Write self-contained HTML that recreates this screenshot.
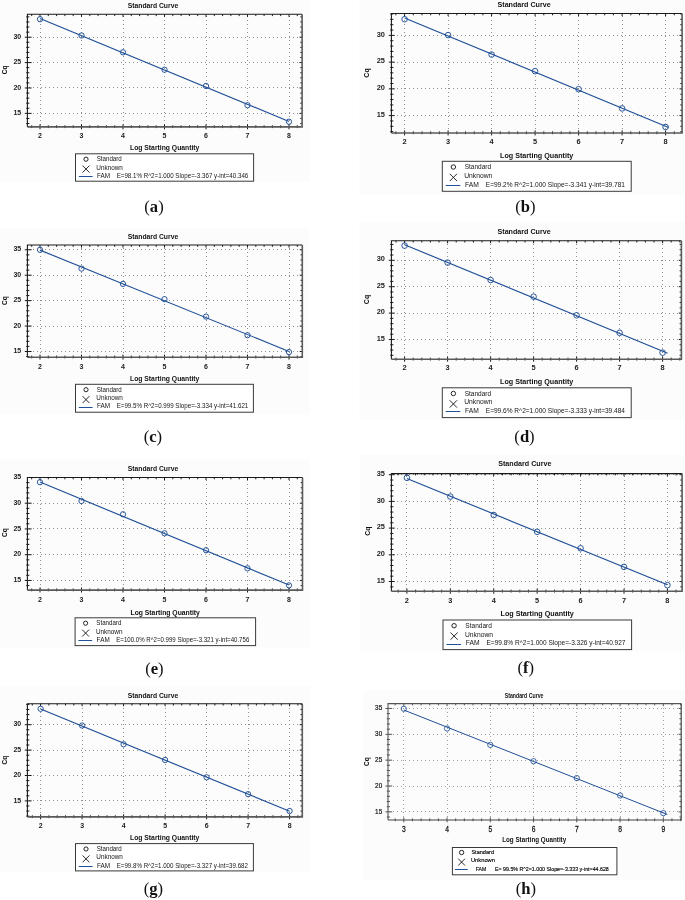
<!DOCTYPE html>
<html><head><meta charset="utf-8"><title>Standard Curves</title>
<style>
html,body{margin:0;padding:0;background:#fff;width:685px;height:900px;overflow:hidden}
svg{display:block}
text{font-family:'Liberation Sans',Arial,sans-serif}
text.cap{font-family:'Liberation Serif','Times New Roman',serif}
</style></head><body>
<svg width="685" height="900" viewBox="0 0 685 900">
<rect width="685" height="900" fill="#fff"/>
<rect x="0" y="0" width="309.6" height="181.5" fill="#fcfcfc"/>
<rect x="359.3" y="0" width="325.7" height="194.5" fill="#fcfcfc"/>
<rect x="0" y="227.8" width="309" height="186.8" fill="#fcfcfc"/>
<rect x="359.3" y="222" width="325.7" height="197.9" fill="#fcfcfc"/>
<rect x="0" y="459.6" width="309.6" height="187.9" fill="#fcfcfc"/>
<rect x="359.9" y="454.9" width="325.1" height="196.7" fill="#fcfcfc"/>
<rect x="0" y="686.2" width="309.5" height="186.5" fill="#fcfcfc"/>
<rect x="363.4" y="690.1" width="321.6" height="189.9" fill="#fcfcfc"/>
<path d="M40.5 16V126.4M81.5 16V126.4M123.5 16V126.4M164.5 16V126.4M206.5 16V126.4M247.5 16V126.4M289.5 16V126.4M29 113.5H301.6M29 87.5H301.6M29 62.5H301.6M29 37.5H301.6" stroke="#909090" stroke-width="1" stroke-dasharray="1 3" fill="none"/>
<path d="M31.7 128.1V125.3M31.7 14.3V16.1M40 129.3V124.3M40 14.3V16.9M48.3 128.1V125.3M48.3 14.3V16.1M56.6 128.1V125.3M56.6 14.3V16.1M64.9 128.1V125.3M64.9 14.3V16.1M73.2 128.1V125.3M73.2 14.3V16.1M81.5 129.3V124.3M81.5 14.3V16.9M89.8 128.1V125.3M89.8 14.3V16.1M98.1 128.1V125.3M98.1 14.3V16.1M106.4 128.1V125.3M106.4 14.3V16.1M114.7 128.1V125.3M114.7 14.3V16.1M123 129.3V124.3M123 14.3V16.9M131.3 128.1V125.3M131.3 14.3V16.1M139.6 128.1V125.3M139.6 14.3V16.1M147.9 128.1V125.3M147.9 14.3V16.1M156.2 128.1V125.3M156.2 14.3V16.1M164.5 129.3V124.3M164.5 14.3V16.9M172.8 128.1V125.3M172.8 14.3V16.1M181.1 128.1V125.3M181.1 14.3V16.1M189.4 128.1V125.3M189.4 14.3V16.1M197.7 128.1V125.3M197.7 14.3V16.1M206 129.3V124.3M206 14.3V16.9M214.3 128.1V125.3M214.3 14.3V16.1M222.6 128.1V125.3M222.6 14.3V16.1M230.9 128.1V125.3M230.9 14.3V16.1M239.2 128.1V125.3M239.2 14.3V16.1M247.5 129.3V124.3M247.5 14.3V16.9M255.8 128.1V125.3M255.8 14.3V16.1M264.1 128.1V125.3M264.1 14.3V16.1M272.4 128.1V125.3M272.4 14.3V16.1M280.7 128.1V125.3M280.7 14.3V16.1M289 129.3V124.3M289 14.3V16.9M297.3 128.1V125.3M297.3 14.3V16.1M26.2 123.51H29.4M302.1 123.51H300.3M26.2 118.43H29.4M302.1 118.43H300.3M24.8 113.36H31.6M302.1 113.36H299.5M26.2 108.28H29.4M302.1 108.28H300.3M26.2 103.2H29.4M302.1 103.2H300.3M26.2 98.12H29.4M302.1 98.12H300.3M26.2 93.05H29.4M302.1 93.05H300.3M24.8 87.97H31.6M302.1 87.97H299.5M26.2 82.89H29.4M302.1 82.89H300.3M26.2 77.82H29.4M302.1 77.82H300.3M26.2 72.74H29.4M302.1 72.74H300.3M26.2 67.66H29.4M302.1 67.66H300.3M24.8 62.59H31.6M302.1 62.59H299.5M26.2 57.51H29.4M302.1 57.51H300.3M26.2 52.43H29.4M302.1 52.43H300.3M26.2 47.35H29.4M302.1 47.35H300.3M26.2 42.28H29.4M302.1 42.28H300.3M24.8 37.2H31.6M302.1 37.2H299.5M26.2 32.12H29.4M302.1 32.12H300.3M26.2 27.05H29.4M302.1 27.05H300.3M26.2 21.97H29.4M302.1 21.97H300.3M26.2 16.89H29.4M302.1 16.89H300.3" stroke="#1a1a1a" stroke-width="1" fill="none"/>
<path d="M27.4 126.9V14.3H302.1" stroke="#1a1a1a" stroke-width="1.1" fill="none"/>
<path d="M302.1 14.3V126.9H27.4" stroke="#5a5a5a" stroke-width="1.6" fill="none"/>
<line x1="40" y1="18.45" x2="289" y2="121.44" stroke="#1f4f97" stroke-width="1.15"/>
<circle cx="40" cy="19.2" r="2.65" fill="none" stroke="#1f4f97" stroke-width="0.95"/>
<circle cx="81.5" cy="35.5" r="2.65" fill="none" stroke="#1f4f97" stroke-width="0.95"/>
<circle cx="123" cy="52.3" r="2.65" fill="none" stroke="#1f4f97" stroke-width="0.95"/>
<circle cx="164.5" cy="69.7" r="2.65" fill="none" stroke="#1f4f97" stroke-width="0.95"/>
<circle cx="206" cy="86" r="2.65" fill="none" stroke="#1f4f97" stroke-width="0.95"/>
<circle cx="247.5" cy="105.2" r="2.65" fill="none" stroke="#1f4f97" stroke-width="0.95"/>
<circle cx="289" cy="121.7" r="2.65" fill="none" stroke="#1f4f97" stroke-width="0.95"/>
<text x="40" y="137.82" font-size="7" font-weight="bold" text-anchor="middle" fill="#222">2</text>
<text x="81.5" y="137.82" font-size="7" font-weight="bold" text-anchor="middle" fill="#222">3</text>
<text x="123" y="137.82" font-size="7" font-weight="bold" text-anchor="middle" fill="#222">4</text>
<text x="164.5" y="137.82" font-size="7" font-weight="bold" text-anchor="middle" fill="#222">5</text>
<text x="206" y="137.82" font-size="7" font-weight="bold" text-anchor="middle" fill="#222">6</text>
<text x="247.5" y="137.82" font-size="7" font-weight="bold" text-anchor="middle" fill="#222">7</text>
<text x="289" y="137.82" font-size="7" font-weight="bold" text-anchor="middle" fill="#222">8</text>
<text x="21.2" y="114.97" font-size="7" font-weight="bold" text-anchor="end" fill="#222">15</text>
<text x="21.2" y="89.59" font-size="7" font-weight="bold" text-anchor="end" fill="#222">20</text>
<text x="21.2" y="64.2" font-size="7" font-weight="bold" text-anchor="end" fill="#222">25</text>
<text x="21.2" y="38.82" font-size="7" font-weight="bold" text-anchor="end" fill="#222">30</text>
<text x="127.7" y="8" font-size="7" font-weight="bold" textLength="50.5" lengthAdjust="spacingAndGlyphs" fill="#111">Standard Curve</text>
<text transform="translate(7 69.8) rotate(-90)" font-size="6.6" font-weight="bold" text-anchor="middle" fill="#111">Cq</text>
<text x="130" y="150.2" font-size="6.6" font-weight="bold" textLength="69.4" lengthAdjust="spacingAndGlyphs" fill="#111">Log Starting Quantity</text>
<rect x="75.5" y="153.8" width="178.1" height="27.4" fill="#fff" stroke="#3a3a3a" stroke-width="1"/>
<circle cx="86" cy="159.2" r="2.1" fill="none" stroke="#111" stroke-width="0.9"/>
<path d="M82.55 165.65L89.45 172.55M89.45 165.65L82.55 172.55" stroke="#111" stroke-width="0.9"/>
<line x1="78.8" y1="176.5" x2="92.6" y2="176.5" stroke="#1f4f97" stroke-width="1"/>
<text x="96.7" y="161.3" font-size="6.7" textLength="25.1" lengthAdjust="spacingAndGlyphs" fill="#151515">Standard</text>
<text x="96.3" y="169.6" font-size="6.7" textLength="26.6" lengthAdjust="spacingAndGlyphs" fill="#151515">Unknown</text>
<text x="97" y="177.9" font-size="6.7" textLength="13.1" lengthAdjust="spacingAndGlyphs" fill="#151515">FAM</text>
<text x="116.7" y="177.9" font-size="6.7" textLength="131.6" lengthAdjust="spacingAndGlyphs" fill="#151515">E=98.1% R^2=1.000 Slope=-3.367 y-int=40.346</text>
<text x="154" y="211.65" class="cap" font-size="16.6" text-anchor="middle" fill="#111">(<tspan font-weight="bold">a</tspan>)</text>
<path d="M404.5 16V132.5M448.5 16V132.5M491.5 16V132.5M535.5 16V132.5M578.5 16V132.5M622.5 16V132.5M665.5 16V132.5M393 115.5H681.6M393 88.5H681.6M393 62.5H681.6M393 35.5H681.6" stroke="#909090" stroke-width="1" stroke-dasharray="1 3" fill="none"/>
<path d="M395.9 134.2V131.4M395.9 13.5V15.3M404.6 135.4V130.4M404.6 13.5V16.1M413.3 134.2V131.4M413.3 13.5V15.3M422 134.2V131.4M422 13.5V15.3M430.7 134.2V131.4M430.7 13.5V15.3M439.4 134.2V131.4M439.4 13.5V15.3M448.1 135.4V130.4M448.1 13.5V16.1M456.8 134.2V131.4M456.8 13.5V15.3M465.5 134.2V131.4M465.5 13.5V15.3M474.2 134.2V131.4M474.2 13.5V15.3M482.9 134.2V131.4M482.9 13.5V15.3M491.6 135.4V130.4M491.6 13.5V16.1M500.3 134.2V131.4M500.3 13.5V15.3M509 134.2V131.4M509 13.5V15.3M517.7 134.2V131.4M517.7 13.5V15.3M526.4 134.2V131.4M526.4 13.5V15.3M535.1 135.4V130.4M535.1 13.5V16.1M543.8 134.2V131.4M543.8 13.5V15.3M552.5 134.2V131.4M552.5 13.5V15.3M561.2 134.2V131.4M561.2 13.5V15.3M569.9 134.2V131.4M569.9 13.5V15.3M578.6 135.4V130.4M578.6 13.5V16.1M587.3 134.2V131.4M587.3 13.5V15.3M596 134.2V131.4M596 13.5V15.3M604.7 134.2V131.4M604.7 13.5V15.3M613.4 134.2V131.4M613.4 13.5V15.3M622.1 135.4V130.4M622.1 13.5V16.1M630.8 134.2V131.4M630.8 13.5V15.3M639.5 134.2V131.4M639.5 13.5V15.3M648.2 134.2V131.4M648.2 13.5V15.3M656.9 134.2V131.4M656.9 13.5V15.3M665.6 135.4V130.4M665.6 13.5V16.1M674.3 134.2V131.4M674.3 13.5V15.3M390.2 131.65H393.4M682.1 131.65H680.3M390.2 126.3H393.4M682.1 126.3H680.3M390.2 120.95H393.4M682.1 120.95H680.3M388.8 115.61H394.7M682.1 115.61H679.5M390.2 110.26H393.4M682.1 110.26H680.3M390.2 104.91H393.4M682.1 104.91H680.3M390.2 99.56H393.4M682.1 99.56H680.3M390.2 94.22H393.4M682.1 94.22H680.3M388.8 88.87H394.7M682.1 88.87H679.5M390.2 83.52H393.4M682.1 83.52H680.3M390.2 78.18H393.4M682.1 78.18H680.3M390.2 72.83H393.4M682.1 72.83H680.3M390.2 67.48H393.4M682.1 67.48H680.3M388.8 62.14H394.7M682.1 62.14H679.5M390.2 56.79H393.4M682.1 56.79H680.3M390.2 51.44H393.4M682.1 51.44H680.3M390.2 46.09H393.4M682.1 46.09H680.3M390.2 40.75H393.4M682.1 40.75H680.3M388.8 35.4H394.7M682.1 35.4H679.5M390.2 30.05H393.4M682.1 30.05H680.3M390.2 24.71H393.4M682.1 24.71H680.3M390.2 19.36H393.4M682.1 19.36H680.3M390.2 14.01H393.4M682.1 14.01H680.3" stroke="#1a1a1a" stroke-width="1" fill="none"/>
<path d="M391.4 133V13.5H682.1" stroke="#1a1a1a" stroke-width="1.1" fill="none"/>
<path d="M682.1 13.5V133H391.4" stroke="#5a5a5a" stroke-width="1.6" fill="none"/>
<line x1="404.6" y1="18.04" x2="668.6" y2="127.41" stroke="#1f4f97" stroke-width="1.15"/>
<circle cx="404.6" cy="19.2" r="2.8" fill="none" stroke="#1f4f97" stroke-width="0.95"/>
<circle cx="448.1" cy="35.1" r="2.8" fill="none" stroke="#1f4f97" stroke-width="0.95"/>
<circle cx="491.6" cy="54.6" r="2.8" fill="none" stroke="#1f4f97" stroke-width="0.95"/>
<circle cx="535.1" cy="71.2" r="2.8" fill="none" stroke="#1f4f97" stroke-width="0.95"/>
<circle cx="578.6" cy="89.2" r="2.8" fill="none" stroke="#1f4f97" stroke-width="0.95"/>
<circle cx="622.1" cy="108.4" r="2.8" fill="none" stroke="#1f4f97" stroke-width="0.95"/>
<circle cx="665.6" cy="127" r="2.8" fill="none" stroke="#1f4f97" stroke-width="0.95"/>
<text x="404.6" y="143.56" font-size="7.38" font-weight="bold" text-anchor="middle" fill="#222">2</text>
<text x="448.1" y="143.56" font-size="7.38" font-weight="bold" text-anchor="middle" fill="#222">3</text>
<text x="491.6" y="143.56" font-size="7.38" font-weight="bold" text-anchor="middle" fill="#222">4</text>
<text x="535.1" y="143.56" font-size="7.38" font-weight="bold" text-anchor="middle" fill="#222">5</text>
<text x="578.6" y="143.56" font-size="7.38" font-weight="bold" text-anchor="middle" fill="#222">6</text>
<text x="622.1" y="143.56" font-size="7.38" font-weight="bold" text-anchor="middle" fill="#222">7</text>
<text x="665.6" y="143.56" font-size="7.38" font-weight="bold" text-anchor="middle" fill="#222">8</text>
<text x="384.86" y="116.76" font-size="7.38" font-weight="bold" text-anchor="end" fill="#222">15</text>
<text x="384.86" y="90.03" font-size="7.38" font-weight="bold" text-anchor="end" fill="#222">20</text>
<text x="384.86" y="63.29" font-size="7.38" font-weight="bold" text-anchor="end" fill="#222">25</text>
<text x="384.86" y="36.56" font-size="7.38" font-weight="bold" text-anchor="end" fill="#222">30</text>
<text x="497.5" y="7.2" font-size="7.38" font-weight="bold" textLength="53.2" lengthAdjust="spacingAndGlyphs" fill="#111">Standard Curve</text>
<text transform="translate(369.4 73) rotate(-90)" font-size="6.96" font-weight="bold" text-anchor="middle" fill="#111">Cq</text>
<text x="500" y="157.6" font-size="6.96" font-weight="bold" textLength="73.3" lengthAdjust="spacingAndGlyphs" fill="#111">Log Starting Quantity</text>
<rect x="442.3" y="161.3" width="188.9" height="30" fill="#fff" stroke="#3a3a3a" stroke-width="1"/>
<circle cx="453.38" cy="167" r="2.22" fill="none" stroke="#111" stroke-width="0.9"/>
<path d="M449.74 173.8L457.02 181.08M457.02 173.8L449.74 181.08" stroke="#111" stroke-width="0.9"/>
<line x1="445.78" y1="185.5" x2="460.34" y2="185.5" stroke="#1f4f97" stroke-width="1"/>
<text x="464.67" y="169.21" font-size="7.07" textLength="26.48" lengthAdjust="spacingAndGlyphs" fill="#151515">Standard</text>
<text x="464.24" y="177.97" font-size="7.07" textLength="28.06" lengthAdjust="spacingAndGlyphs" fill="#151515">Unknown</text>
<text x="464.98" y="186.73" font-size="7.07" textLength="13.82" lengthAdjust="spacingAndGlyphs" fill="#151515">FAM</text>
<text x="485.77" y="186.73" font-size="7.07" textLength="139.23" lengthAdjust="spacingAndGlyphs" fill="#151515">E=99.2% R^2=1.000 Slope=-3.341 y-int=39.781</text>
<text x="525.4" y="211.65" class="cap" font-size="16.6" text-anchor="middle" fill="#111">(<tspan font-weight="bold">b</tspan>)</text>
<path d="M40.5 248V356.7M81.5 248V356.7M123.5 248V356.7M164.5 248V356.7M206.5 248V356.7M247.5 248V356.7M289.5 248V356.7M29 351.5H301.8M29 326.5H301.8M29 300.5H301.8M29 275.5H301.8M29 249.5H301.8" stroke="#909090" stroke-width="1" stroke-dasharray="1 3" fill="none"/>
<path d="M31.7 358.4V355.6M31.7 245V246.8M40 359.6V354.6M40 245V247.6M48.3 358.4V355.6M48.3 245V246.8M56.6 358.4V355.6M56.6 245V246.8M64.9 358.4V355.6M64.9 245V246.8M73.2 358.4V355.6M73.2 245V246.8M81.5 359.6V354.6M81.5 245V247.6M89.8 358.4V355.6M89.8 245V246.8M98.1 358.4V355.6M98.1 245V246.8M106.4 358.4V355.6M106.4 245V246.8M114.7 358.4V355.6M114.7 245V246.8M123 359.6V354.6M123 245V247.6M131.3 358.4V355.6M131.3 245V246.8M139.6 358.4V355.6M139.6 245V246.8M147.9 358.4V355.6M147.9 245V246.8M156.2 358.4V355.6M156.2 245V246.8M164.5 359.6V354.6M164.5 245V247.6M172.8 358.4V355.6M172.8 245V246.8M181.1 358.4V355.6M181.1 245V246.8M189.4 358.4V355.6M189.4 245V246.8M197.7 358.4V355.6M197.7 245V246.8M206 359.6V354.6M206 245V247.6M214.3 358.4V355.6M214.3 245V246.8M222.6 358.4V355.6M222.6 245V246.8M230.9 358.4V355.6M230.9 245V246.8M239.2 358.4V355.6M239.2 245V246.8M247.5 359.6V354.6M247.5 245V247.6M255.8 358.4V355.6M255.8 245V246.8M264.1 358.4V355.6M264.1 245V246.8M272.4 358.4V355.6M272.4 245V246.8M280.7 358.4V355.6M280.7 245V246.8M289 359.6V354.6M289 245V247.6M297.3 358.4V355.6M297.3 245V246.8M26.2 356.59H29.4M302.3 356.59H300.5M24.8 351.5H31.6M302.3 351.5H299.7M26.2 346.42H29.4M302.3 346.42H300.5M26.2 341.33H29.4M302.3 341.33H300.5M26.2 336.24H29.4M302.3 336.24H300.5M26.2 331.16H29.4M302.3 331.16H300.5M24.8 326.07H31.6M302.3 326.07H299.7M26.2 320.98H29.4M302.3 320.98H300.5M26.2 315.9H29.4M302.3 315.9H300.5M26.2 310.81H29.4M302.3 310.81H300.5M26.2 305.72H29.4M302.3 305.72H300.5M24.8 300.63H31.6M302.3 300.63H299.7M26.2 295.55H29.4M302.3 295.55H300.5M26.2 290.46H29.4M302.3 290.46H300.5M26.2 285.37H29.4M302.3 285.37H300.5M26.2 280.29H29.4M302.3 280.29H300.5M24.8 275.2H31.6M302.3 275.2H299.7M26.2 270.11H29.4M302.3 270.11H300.5M26.2 265.03H29.4M302.3 265.03H300.5M26.2 259.94H29.4M302.3 259.94H300.5M26.2 254.85H29.4M302.3 254.85H300.5M24.8 249.76H31.6M302.3 249.76H299.7" stroke="#1a1a1a" stroke-width="1" fill="none"/>
<path d="M27.4 357.2V245H302.3" stroke="#1a1a1a" stroke-width="1.1" fill="none"/>
<path d="M302.3 245V357.2H27.4" stroke="#5a5a5a" stroke-width="1.6" fill="none"/>
<line x1="40" y1="250.11" x2="289" y2="351.43" stroke="#1f4f97" stroke-width="1.15"/>
<circle cx="40" cy="249.8" r="2.65" fill="none" stroke="#1f4f97" stroke-width="0.95"/>
<circle cx="81.5" cy="268.6" r="2.65" fill="none" stroke="#1f4f97" stroke-width="0.95"/>
<circle cx="123" cy="283.9" r="2.65" fill="none" stroke="#1f4f97" stroke-width="0.95"/>
<circle cx="164.5" cy="299.2" r="2.65" fill="none" stroke="#1f4f97" stroke-width="0.95"/>
<circle cx="206" cy="316.6" r="2.65" fill="none" stroke="#1f4f97" stroke-width="0.95"/>
<circle cx="247.5" cy="335.2" r="2.65" fill="none" stroke="#1f4f97" stroke-width="0.95"/>
<circle cx="289" cy="352.1" r="2.65" fill="none" stroke="#1f4f97" stroke-width="0.95"/>
<text x="40" y="368.52" font-size="7" font-weight="bold" text-anchor="middle" fill="#222">2</text>
<text x="81.5" y="368.52" font-size="7" font-weight="bold" text-anchor="middle" fill="#222">3</text>
<text x="123" y="368.52" font-size="7" font-weight="bold" text-anchor="middle" fill="#222">4</text>
<text x="164.5" y="368.52" font-size="7" font-weight="bold" text-anchor="middle" fill="#222">5</text>
<text x="206" y="368.52" font-size="7" font-weight="bold" text-anchor="middle" fill="#222">6</text>
<text x="247.5" y="368.52" font-size="7" font-weight="bold" text-anchor="middle" fill="#222">7</text>
<text x="289" y="368.52" font-size="7" font-weight="bold" text-anchor="middle" fill="#222">8</text>
<text x="21.2" y="353.12" font-size="7" font-weight="bold" text-anchor="end" fill="#222">15</text>
<text x="21.2" y="327.69" font-size="7" font-weight="bold" text-anchor="end" fill="#222">20</text>
<text x="21.2" y="302.25" font-size="7" font-weight="bold" text-anchor="end" fill="#222">25</text>
<text x="21.2" y="276.82" font-size="7" font-weight="bold" text-anchor="end" fill="#222">30</text>
<text x="21.2" y="251.38" font-size="7" font-weight="bold" text-anchor="end" fill="#222">35</text>
<text x="127.7" y="239" font-size="7" font-weight="bold" textLength="50.5" lengthAdjust="spacingAndGlyphs" fill="#111">Standard Curve</text>
<text transform="translate(7 300.5) rotate(-90)" font-size="6.6" font-weight="bold" text-anchor="middle" fill="#111">Cq</text>
<text x="130" y="381" font-size="6.6" font-weight="bold" textLength="69.4" lengthAdjust="spacingAndGlyphs" fill="#111">Log Starting Quantity</text>
<rect x="75.5" y="384.3" width="177.9" height="27.9" fill="#fff" stroke="#3a3a3a" stroke-width="1"/>
<circle cx="86" cy="389.7" r="2.1" fill="none" stroke="#111" stroke-width="0.9"/>
<path d="M82.55 396.15L89.45 403.05M89.45 396.15L82.55 403.05" stroke="#111" stroke-width="0.9"/>
<line x1="78.8" y1="407.5" x2="92.6" y2="407.5" stroke="#1f4f97" stroke-width="1"/>
<text x="96.7" y="391.8" font-size="6.7" textLength="25.1" lengthAdjust="spacingAndGlyphs" fill="#151515">Standard</text>
<text x="96.3" y="400.1" font-size="6.7" textLength="26.6" lengthAdjust="spacingAndGlyphs" fill="#151515">Unknown</text>
<text x="97" y="408.4" font-size="6.7" textLength="13.1" lengthAdjust="spacingAndGlyphs" fill="#151515">FAM</text>
<text x="116.7" y="408.4" font-size="6.7" textLength="131.6" lengthAdjust="spacingAndGlyphs" fill="#151515">E=99.5% R^2=0.999 Slope=-3.334 y-int=41.621</text>
<text x="152.9" y="441.95" class="cap" font-size="16.6" text-anchor="middle" fill="#111">(<tspan font-weight="bold">c</tspan>)</text>
<path d="M404.5 244V358.8M447.5 244V358.8M490.5 244V358.8M533.5 244V358.8M576.5 244V358.8M619.5 244V358.8M662.5 244V358.8M393 339.5H680.9M393 313.5H680.9M393 286.5H680.9M393 260.5H680.9" stroke="#909090" stroke-width="1" stroke-dasharray="1 3" fill="none"/>
<path d="M396 360.5V357.7M396 240.7V242.5M404.6 361.7V356.7M404.6 240.7V243.3M413.2 360.5V357.7M413.2 240.7V242.5M421.8 360.5V357.7M421.8 240.7V242.5M430.4 360.5V357.7M430.4 240.7V242.5M439 360.5V357.7M439 240.7V242.5M447.6 361.7V356.7M447.6 240.7V243.3M456.2 360.5V357.7M456.2 240.7V242.5M464.8 360.5V357.7M464.8 240.7V242.5M473.4 360.5V357.7M473.4 240.7V242.5M482 360.5V357.7M482 240.7V242.5M490.6 361.7V356.7M490.6 240.7V243.3M499.2 360.5V357.7M499.2 240.7V242.5M507.8 360.5V357.7M507.8 240.7V242.5M516.4 360.5V357.7M516.4 240.7V242.5M525 360.5V357.7M525 240.7V242.5M533.6 361.7V356.7M533.6 240.7V243.3M542.2 360.5V357.7M542.2 240.7V242.5M550.8 360.5V357.7M550.8 240.7V242.5M559.4 360.5V357.7M559.4 240.7V242.5M568 360.5V357.7M568 240.7V242.5M576.6 361.7V356.7M576.6 240.7V243.3M585.2 360.5V357.7M585.2 240.7V242.5M593.8 360.5V357.7M593.8 240.7V242.5M602.4 360.5V357.7M602.4 240.7V242.5M611 360.5V357.7M611 240.7V242.5M619.6 361.7V356.7M619.6 240.7V243.3M628.2 360.5V357.7M628.2 240.7V242.5M636.8 360.5V357.7M636.8 240.7V242.5M645.4 360.5V357.7M645.4 240.7V242.5M654 360.5V357.7M654 240.7V242.5M662.6 361.7V356.7M662.6 240.7V243.3M671.2 360.5V357.7M671.2 240.7V242.5M679.8 360.5V357.7M679.8 240.7V242.5M390.2 355.34H393.4M681.4 355.34H679.6M390.2 350.06H393.4M681.4 350.06H679.6M390.2 344.78H393.4M681.4 344.78H679.6M388.8 339.5H394.7M681.4 339.5H678.8M390.2 334.22H393.4M681.4 334.22H679.6M390.2 328.94H393.4M681.4 328.94H679.6M390.2 323.66H393.4M681.4 323.66H679.6M390.2 318.38H393.4M681.4 318.38H679.6M388.8 313.1H394.7M681.4 313.1H678.8M390.2 307.82H393.4M681.4 307.82H679.6M390.2 302.54H393.4M681.4 302.54H679.6M390.2 297.26H393.4M681.4 297.26H679.6M390.2 291.98H393.4M681.4 291.98H679.6M388.8 286.7H394.7M681.4 286.7H678.8M390.2 281.42H393.4M681.4 281.42H679.6M390.2 276.14H393.4M681.4 276.14H679.6M390.2 270.86H393.4M681.4 270.86H679.6M390.2 265.58H393.4M681.4 265.58H679.6M388.8 260.3H394.7M681.4 260.3H678.8M390.2 255.02H393.4M681.4 255.02H679.6M390.2 249.74H393.4M681.4 249.74H679.6M390.2 244.46H393.4M681.4 244.46H679.6" stroke="#1a1a1a" stroke-width="1" fill="none"/>
<path d="M391.4 359.3V240.7H681.4" stroke="#1a1a1a" stroke-width="1.1" fill="none"/>
<path d="M681.4 240.7V359.3H391.4" stroke="#5a5a5a" stroke-width="1.6" fill="none"/>
<line x1="404.6" y1="244.71" x2="667.6" y2="353.27" stroke="#1f4f97" stroke-width="1.15"/>
<circle cx="404.6" cy="245.6" r="2.8" fill="none" stroke="#1f4f97" stroke-width="0.95"/>
<circle cx="447.6" cy="262.6" r="2.8" fill="none" stroke="#1f4f97" stroke-width="0.95"/>
<circle cx="490.6" cy="280" r="2.8" fill="none" stroke="#1f4f97" stroke-width="0.95"/>
<circle cx="533.6" cy="296.7" r="2.8" fill="none" stroke="#1f4f97" stroke-width="0.95"/>
<circle cx="576.6" cy="315.3" r="2.8" fill="none" stroke="#1f4f97" stroke-width="0.95"/>
<circle cx="619.6" cy="332.8" r="2.8" fill="none" stroke="#1f4f97" stroke-width="0.95"/>
<circle cx="662.6" cy="352.7" r="2.8" fill="none" stroke="#1f4f97" stroke-width="0.95"/>
<text x="404.6" y="370.26" font-size="7.38" font-weight="bold" text-anchor="middle" fill="#222">2</text>
<text x="447.6" y="370.26" font-size="7.38" font-weight="bold" text-anchor="middle" fill="#222">3</text>
<text x="490.6" y="370.26" font-size="7.38" font-weight="bold" text-anchor="middle" fill="#222">4</text>
<text x="533.6" y="370.26" font-size="7.38" font-weight="bold" text-anchor="middle" fill="#222">5</text>
<text x="576.6" y="370.26" font-size="7.38" font-weight="bold" text-anchor="middle" fill="#222">6</text>
<text x="619.6" y="370.26" font-size="7.38" font-weight="bold" text-anchor="middle" fill="#222">7</text>
<text x="662.6" y="370.26" font-size="7.38" font-weight="bold" text-anchor="middle" fill="#222">8</text>
<text x="384.86" y="340.66" font-size="7.38" font-weight="bold" text-anchor="end" fill="#222">15</text>
<text x="384.86" y="314.26" font-size="7.38" font-weight="bold" text-anchor="end" fill="#222">20</text>
<text x="384.86" y="287.86" font-size="7.38" font-weight="bold" text-anchor="end" fill="#222">25</text>
<text x="384.86" y="261.46" font-size="7.38" font-weight="bold" text-anchor="end" fill="#222">30</text>
<text x="497.5" y="234" font-size="7.38" font-weight="bold" textLength="53.2" lengthAdjust="spacingAndGlyphs" fill="#111">Standard Curve</text>
<text transform="translate(369.4 299.5) rotate(-90)" font-size="6.96" font-weight="bold" text-anchor="middle" fill="#111">Cq</text>
<text x="500" y="384.3" font-size="6.96" font-weight="bold" textLength="73.3" lengthAdjust="spacingAndGlyphs" fill="#111">Log Starting Quantity</text>
<rect x="442.3" y="387.8" width="188.9" height="29.8" fill="#fff" stroke="#3a3a3a" stroke-width="1"/>
<circle cx="453.38" cy="393.5" r="2.22" fill="none" stroke="#111" stroke-width="0.9"/>
<path d="M449.74 400.3L457.02 407.58M457.02 400.3L449.74 407.58" stroke="#111" stroke-width="0.9"/>
<line x1="445.78" y1="411.5" x2="460.34" y2="411.5" stroke="#1f4f97" stroke-width="1"/>
<text x="464.67" y="395.71" font-size="7.07" textLength="26.48" lengthAdjust="spacingAndGlyphs" fill="#151515">Standard</text>
<text x="464.24" y="404.47" font-size="7.07" textLength="28.06" lengthAdjust="spacingAndGlyphs" fill="#151515">Unknown</text>
<text x="464.98" y="413.23" font-size="7.07" textLength="13.82" lengthAdjust="spacingAndGlyphs" fill="#151515">FAM</text>
<text x="485.77" y="413.23" font-size="7.07" textLength="139.23" lengthAdjust="spacingAndGlyphs" fill="#151515">E=99.6% R^2=1.000 Slope=-3.333 y-int=39.484</text>
<text x="524.5" y="441.85" class="cap" font-size="16.6" text-anchor="middle" fill="#111">(<tspan font-weight="bold">d</tspan>)</text>
<path d="M40.5 480V589.6M81.5 480V589.6M123.5 480V589.6M164.5 480V589.6M206.5 480V589.6M247.5 480V589.6M289.5 480V589.6M29 580.5H302M29 554.5H302M29 528.5H302M29 503.5H302" stroke="#909090" stroke-width="1" stroke-dasharray="1 3" fill="none"/>
<path d="M31.7 591.3V588.5M31.7 477.5V479.3M40 592.5V587.5M40 477.5V480.1M48.3 591.3V588.5M48.3 477.5V479.3M56.6 591.3V588.5M56.6 477.5V479.3M64.9 591.3V588.5M64.9 477.5V479.3M73.2 591.3V588.5M73.2 477.5V479.3M81.5 592.5V587.5M81.5 477.5V480.1M89.8 591.3V588.5M89.8 477.5V479.3M98.1 591.3V588.5M98.1 477.5V479.3M106.4 591.3V588.5M106.4 477.5V479.3M114.7 591.3V588.5M114.7 477.5V479.3M123 592.5V587.5M123 477.5V480.1M131.3 591.3V588.5M131.3 477.5V479.3M139.6 591.3V588.5M139.6 477.5V479.3M147.9 591.3V588.5M147.9 477.5V479.3M156.2 591.3V588.5M156.2 477.5V479.3M164.5 592.5V587.5M164.5 477.5V480.1M172.8 591.3V588.5M172.8 477.5V479.3M181.1 591.3V588.5M181.1 477.5V479.3M189.4 591.3V588.5M189.4 477.5V479.3M197.7 591.3V588.5M197.7 477.5V479.3M206 592.5V587.5M206 477.5V480.1M214.3 591.3V588.5M214.3 477.5V479.3M222.6 591.3V588.5M222.6 477.5V479.3M230.9 591.3V588.5M230.9 477.5V479.3M239.2 591.3V588.5M239.2 477.5V479.3M247.5 592.5V587.5M247.5 477.5V480.1M255.8 591.3V588.5M255.8 477.5V479.3M264.1 591.3V588.5M264.1 477.5V479.3M272.4 591.3V588.5M272.4 477.5V479.3M280.7 591.3V588.5M280.7 477.5V479.3M289 592.5V587.5M289 477.5V480.1M297.3 591.3V588.5M297.3 477.5V479.3M26.2 585.6H29.4M302.5 585.6H300.7M24.8 580.45H31.6M302.5 580.45H299.9M26.2 575.3H29.4M302.5 575.3H300.7M26.2 570.15H29.4M302.5 570.15H300.7M26.2 565H29.4M302.5 565H300.7M26.2 559.85H29.4M302.5 559.85H300.7M24.8 554.7H31.6M302.5 554.7H299.9M26.2 549.55H29.4M302.5 549.55H300.7M26.2 544.4H29.4M302.5 544.4H300.7M26.2 539.25H29.4M302.5 539.25H300.7M26.2 534.1H29.4M302.5 534.1H300.7M24.8 528.95H31.6M302.5 528.95H299.9M26.2 523.8H29.4M302.5 523.8H300.7M26.2 518.65H29.4M302.5 518.65H300.7M26.2 513.5H29.4M302.5 513.5H300.7M26.2 508.35H29.4M302.5 508.35H300.7M24.8 503.2H31.6M302.5 503.2H299.9M26.2 498.05H29.4M302.5 498.05H300.7M26.2 492.9H29.4M302.5 492.9H300.7M26.2 487.75H29.4M302.5 487.75H300.7M26.2 482.6H29.4M302.5 482.6H300.7" stroke="#1a1a1a" stroke-width="1" fill="none"/>
<path d="M27.4 590.1V477.5H302.5" stroke="#1a1a1a" stroke-width="1.1" fill="none"/>
<path d="M302.5 477.5V590.1H27.4" stroke="#5a5a5a" stroke-width="1.6" fill="none"/>
<line x1="40" y1="482.09" x2="289" y2="584.97" stroke="#1f4f97" stroke-width="1.15"/>
<circle cx="40" cy="482.2" r="2.65" fill="none" stroke="#1f4f97" stroke-width="0.95"/>
<circle cx="81.5" cy="501" r="2.65" fill="none" stroke="#1f4f97" stroke-width="0.95"/>
<circle cx="123" cy="514.3" r="2.65" fill="none" stroke="#1f4f97" stroke-width="0.95"/>
<circle cx="164.5" cy="533.3" r="2.65" fill="none" stroke="#1f4f97" stroke-width="0.95"/>
<circle cx="206" cy="550.2" r="2.65" fill="none" stroke="#1f4f97" stroke-width="0.95"/>
<circle cx="247.5" cy="568.3" r="2.65" fill="none" stroke="#1f4f97" stroke-width="0.95"/>
<circle cx="289" cy="585.4" r="2.65" fill="none" stroke="#1f4f97" stroke-width="0.95"/>
<text x="40" y="602.02" font-size="7" font-weight="bold" text-anchor="middle" fill="#222">2</text>
<text x="81.5" y="602.02" font-size="7" font-weight="bold" text-anchor="middle" fill="#222">3</text>
<text x="123" y="602.02" font-size="7" font-weight="bold" text-anchor="middle" fill="#222">4</text>
<text x="164.5" y="602.02" font-size="7" font-weight="bold" text-anchor="middle" fill="#222">5</text>
<text x="206" y="602.02" font-size="7" font-weight="bold" text-anchor="middle" fill="#222">6</text>
<text x="247.5" y="602.02" font-size="7" font-weight="bold" text-anchor="middle" fill="#222">7</text>
<text x="289" y="602.02" font-size="7" font-weight="bold" text-anchor="middle" fill="#222">8</text>
<text x="21.2" y="582.07" font-size="7" font-weight="bold" text-anchor="end" fill="#222">15</text>
<text x="21.2" y="556.32" font-size="7" font-weight="bold" text-anchor="end" fill="#222">20</text>
<text x="21.2" y="530.57" font-size="7" font-weight="bold" text-anchor="end" fill="#222">25</text>
<text x="21.2" y="504.82" font-size="7" font-weight="bold" text-anchor="end" fill="#222">30</text>
<text x="21.2" y="479.07" font-size="7" font-weight="bold" text-anchor="end" fill="#222">35</text>
<text x="127.7" y="471.2" font-size="7" font-weight="bold" textLength="50.5" lengthAdjust="spacingAndGlyphs" fill="#111">Standard Curve</text>
<text transform="translate(7 532.5) rotate(-90)" font-size="6.6" font-weight="bold" text-anchor="middle" fill="#111">Cq</text>
<text x="130.5" y="614.5" font-size="6.6" font-weight="bold" textLength="69.4" lengthAdjust="spacingAndGlyphs" fill="#111">Log Starting Quantity</text>
<rect x="75.1" y="617.8" width="180.5" height="27.8" fill="#fff" stroke="#3a3a3a" stroke-width="1"/>
<circle cx="85.6" cy="623.2" r="2.1" fill="none" stroke="#111" stroke-width="0.9"/>
<path d="M82.15 629.65L89.05 636.55M89.05 629.65L82.15 636.55" stroke="#111" stroke-width="0.9"/>
<line x1="78.4" y1="640.5" x2="92.2" y2="640.5" stroke="#1f4f97" stroke-width="1"/>
<text x="96.3" y="625.3" font-size="6.7" textLength="25.1" lengthAdjust="spacingAndGlyphs" fill="#151515">Standard</text>
<text x="95.9" y="633.6" font-size="6.7" textLength="26.6" lengthAdjust="spacingAndGlyphs" fill="#151515">Unknown</text>
<text x="96.6" y="641.9" font-size="6.7" textLength="13.1" lengthAdjust="spacingAndGlyphs" fill="#151515">FAM</text>
<text x="116.3" y="641.9" font-size="6.7" textLength="133" lengthAdjust="spacingAndGlyphs" fill="#151515">E=100.0% R^2=0.999 Slope=-3.321 y-int=40.756</text>
<text x="154.4" y="673.65" class="cap" font-size="16.6" text-anchor="middle" fill="#111">(<tspan font-weight="bold">e</tspan>)</text>
<path d="M406.5 476V590.8M450.5 476V590.8M493.5 476V590.8M537.5 476V590.8M580.5 476V590.8M624.5 476V590.8M667.5 476V590.8M393 581.5H681.6M393 554.5H681.6M393 528.5H681.6M393 501.5H681.6M393 474.5H681.6" stroke="#909090" stroke-width="1" stroke-dasharray="1 3" fill="none"/>
<path d="M398.22 592.5V589.7M398.22 473.6V475.4M406.9 593.7V588.7M406.9 473.6V476.2M415.58 592.5V589.7M415.58 473.6V475.4M424.27 592.5V589.7M424.27 473.6V475.4M432.95 592.5V589.7M432.95 473.6V475.4M441.64 592.5V589.7M441.64 473.6V475.4M450.32 593.7V588.7M450.32 473.6V476.2M459 592.5V589.7M459 473.6V475.4M467.69 592.5V589.7M467.69 473.6V475.4M476.37 592.5V589.7M476.37 473.6V475.4M485.06 592.5V589.7M485.06 473.6V475.4M493.74 593.7V588.7M493.74 473.6V476.2M502.42 592.5V589.7M502.42 473.6V475.4M511.11 592.5V589.7M511.11 473.6V475.4M519.79 592.5V589.7M519.79 473.6V475.4M528.48 592.5V589.7M528.48 473.6V475.4M537.16 593.7V588.7M537.16 473.6V476.2M545.84 592.5V589.7M545.84 473.6V475.4M554.53 592.5V589.7M554.53 473.6V475.4M563.21 592.5V589.7M563.21 473.6V475.4M571.9 592.5V589.7M571.9 473.6V475.4M580.58 593.7V588.7M580.58 473.6V476.2M589.26 592.5V589.7M589.26 473.6V475.4M597.95 592.5V589.7M597.95 473.6V475.4M606.63 592.5V589.7M606.63 473.6V475.4M615.32 592.5V589.7M615.32 473.6V475.4M624 593.7V588.7M624 473.6V476.2M632.68 592.5V589.7M632.68 473.6V475.4M641.37 592.5V589.7M641.37 473.6V475.4M650.05 592.5V589.7M650.05 473.6V475.4M658.74 592.5V589.7M658.74 473.6V475.4M667.42 593.7V588.7M667.42 473.6V476.2M676.1 592.5V589.7M676.1 473.6V475.4M390.2 586.84H393.4M682.1 586.84H680.3M388.8 581.5H394.7M682.1 581.5H679.5M390.2 576.16H393.4M682.1 576.16H680.3M390.2 570.82H393.4M682.1 570.82H680.3M390.2 565.48H393.4M682.1 565.48H680.3M390.2 560.14H393.4M682.1 560.14H680.3M388.8 554.8H394.7M682.1 554.8H679.5M390.2 549.46H393.4M682.1 549.46H680.3M390.2 544.12H393.4M682.1 544.12H680.3M390.2 538.78H393.4M682.1 538.78H680.3M390.2 533.44H393.4M682.1 533.44H680.3M388.8 528.1H394.7M682.1 528.1H679.5M390.2 522.76H393.4M682.1 522.76H680.3M390.2 517.42H393.4M682.1 517.42H680.3M390.2 512.08H393.4M682.1 512.08H680.3M390.2 506.74H393.4M682.1 506.74H680.3M388.8 501.4H394.7M682.1 501.4H679.5M390.2 496.06H393.4M682.1 496.06H680.3M390.2 490.72H393.4M682.1 490.72H680.3M390.2 485.38H393.4M682.1 485.38H680.3M390.2 480.04H393.4M682.1 480.04H680.3M388.8 474.7H394.7M682.1 474.7H679.5" stroke="#1a1a1a" stroke-width="1" fill="none"/>
<path d="M391.4 591.3V473.6H682.1" stroke="#1a1a1a" stroke-width="1.1" fill="none"/>
<path d="M682.1 473.6V591.3H391.4" stroke="#5a5a5a" stroke-width="1.6" fill="none"/>
<line x1="406.9" y1="478.5" x2="667.42" y2="584.81" stroke="#1f4f97" stroke-width="1.15"/>
<circle cx="406.9" cy="477.8" r="2.8" fill="none" stroke="#1f4f97" stroke-width="0.95"/>
<circle cx="450.32" cy="496.6" r="2.8" fill="none" stroke="#1f4f97" stroke-width="0.95"/>
<circle cx="493.74" cy="515" r="2.8" fill="none" stroke="#1f4f97" stroke-width="0.95"/>
<circle cx="537.16" cy="531.8" r="2.8" fill="none" stroke="#1f4f97" stroke-width="0.95"/>
<circle cx="580.58" cy="548.3" r="2.8" fill="none" stroke="#1f4f97" stroke-width="0.95"/>
<circle cx="624" cy="566.9" r="2.8" fill="none" stroke="#1f4f97" stroke-width="0.95"/>
<circle cx="667.42" cy="585.2" r="2.8" fill="none" stroke="#1f4f97" stroke-width="0.95"/>
<text x="406.9" y="602.66" font-size="7.38" font-weight="bold" text-anchor="middle" fill="#222">2</text>
<text x="450.32" y="602.66" font-size="7.38" font-weight="bold" text-anchor="middle" fill="#222">3</text>
<text x="493.74" y="602.66" font-size="7.38" font-weight="bold" text-anchor="middle" fill="#222">4</text>
<text x="537.16" y="602.66" font-size="7.38" font-weight="bold" text-anchor="middle" fill="#222">5</text>
<text x="580.58" y="602.66" font-size="7.38" font-weight="bold" text-anchor="middle" fill="#222">6</text>
<text x="624" y="602.66" font-size="7.38" font-weight="bold" text-anchor="middle" fill="#222">7</text>
<text x="667.42" y="602.66" font-size="7.38" font-weight="bold" text-anchor="middle" fill="#222">8</text>
<text x="384.86" y="582.66" font-size="7.38" font-weight="bold" text-anchor="end" fill="#222">15</text>
<text x="384.86" y="555.96" font-size="7.38" font-weight="bold" text-anchor="end" fill="#222">20</text>
<text x="384.86" y="529.26" font-size="7.38" font-weight="bold" text-anchor="end" fill="#222">25</text>
<text x="384.86" y="502.56" font-size="7.38" font-weight="bold" text-anchor="end" fill="#222">30</text>
<text x="384.86" y="475.86" font-size="7.38" font-weight="bold" text-anchor="end" fill="#222">35</text>
<text x="498.2" y="465.8" font-size="7.38" font-weight="bold" textLength="53.2" lengthAdjust="spacingAndGlyphs" fill="#111">Standard Curve</text>
<text transform="translate(369.6 531.2) rotate(-90)" font-size="6.96" font-weight="bold" text-anchor="middle" fill="#111">Cq</text>
<text x="500.5" y="616.2" font-size="6.96" font-weight="bold" textLength="73.3" lengthAdjust="spacingAndGlyphs" fill="#111">Log Starting Quantity</text>
<rect x="443" y="620" width="188.6" height="29.6" fill="#fff" stroke="#3a3a3a" stroke-width="1"/>
<circle cx="454.08" cy="625.7" r="2.22" fill="none" stroke="#111" stroke-width="0.9"/>
<path d="M450.44 632.5L457.72 639.78M457.72 632.5L450.44 639.78" stroke="#111" stroke-width="0.9"/>
<line x1="446.48" y1="644.5" x2="461.04" y2="644.5" stroke="#1f4f97" stroke-width="1"/>
<text x="465.37" y="627.91" font-size="7.07" textLength="26.48" lengthAdjust="spacingAndGlyphs" fill="#151515">Standard</text>
<text x="464.94" y="636.67" font-size="7.07" textLength="28.06" lengthAdjust="spacingAndGlyphs" fill="#151515">Unknown</text>
<text x="465.68" y="645.43" font-size="7.07" textLength="13.82" lengthAdjust="spacingAndGlyphs" fill="#151515">FAM</text>
<text x="486.47" y="645.43" font-size="7.07" textLength="139.03" lengthAdjust="spacingAndGlyphs" fill="#151515">E=99.8% R^2=1.000 Slope=-3.326 y-int=40.927</text>
<text x="525.7" y="673.45" class="cap" font-size="16.6" text-anchor="middle" fill="#111">(<tspan font-weight="bold">f</tspan>)</text>
<path d="M40.5 708V816.4M82.5 708V816.4M123.5 708V816.4M165.5 708V816.4M206.5 708V816.4M248.5 708V816.4M289.5 708V816.4M29 800.5H301.8M29 775.5H301.8M29 750.5H301.8M29 724.5H301.8" stroke="#909090" stroke-width="1" stroke-dasharray="1 3" fill="none"/>
<path d="M32.3 818.1V815.3M32.3 703.7V705.5M40.6 819.3V814.3M40.6 703.7V706.3M48.9 818.1V815.3M48.9 703.7V705.5M57.2 818.1V815.3M57.2 703.7V705.5M65.5 818.1V815.3M65.5 703.7V705.5M73.8 818.1V815.3M73.8 703.7V705.5M82.1 819.3V814.3M82.1 703.7V706.3M90.4 818.1V815.3M90.4 703.7V705.5M98.7 818.1V815.3M98.7 703.7V705.5M107 818.1V815.3M107 703.7V705.5M115.3 818.1V815.3M115.3 703.7V705.5M123.6 819.3V814.3M123.6 703.7V706.3M131.9 818.1V815.3M131.9 703.7V705.5M140.2 818.1V815.3M140.2 703.7V705.5M148.5 818.1V815.3M148.5 703.7V705.5M156.8 818.1V815.3M156.8 703.7V705.5M165.1 819.3V814.3M165.1 703.7V706.3M173.4 818.1V815.3M173.4 703.7V705.5M181.7 818.1V815.3M181.7 703.7V705.5M190 818.1V815.3M190 703.7V705.5M198.3 818.1V815.3M198.3 703.7V705.5M206.6 819.3V814.3M206.6 703.7V706.3M214.9 818.1V815.3M214.9 703.7V705.5M223.2 818.1V815.3M223.2 703.7V705.5M231.5 818.1V815.3M231.5 703.7V705.5M239.8 818.1V815.3M239.8 703.7V705.5M248.1 819.3V814.3M248.1 703.7V706.3M256.4 818.1V815.3M256.4 703.7V705.5M264.7 818.1V815.3M264.7 703.7V705.5M273 818.1V815.3M273 703.7V705.5M281.3 818.1V815.3M281.3 703.7V705.5M289.6 819.3V814.3M289.6 703.7V706.3M297.9 818.1V815.3M297.9 703.7V705.5M26.2 816.14H29.4M302.3 816.14H300.5M26.2 811.06H29.4M302.3 811.06H300.5M26.2 805.98H29.4M302.3 805.98H300.5M24.8 800.9H31.6M302.3 800.9H299.7M26.2 795.82H29.4M302.3 795.82H300.5M26.2 790.74H29.4M302.3 790.74H300.5M26.2 785.66H29.4M302.3 785.66H300.5M26.2 780.58H29.4M302.3 780.58H300.5M24.8 775.5H31.6M302.3 775.5H299.7M26.2 770.42H29.4M302.3 770.42H300.5M26.2 765.34H29.4M302.3 765.34H300.5M26.2 760.26H29.4M302.3 760.26H300.5M26.2 755.18H29.4M302.3 755.18H300.5M24.8 750.1H31.6M302.3 750.1H299.7M26.2 745.02H29.4M302.3 745.02H300.5M26.2 739.94H29.4M302.3 739.94H300.5M26.2 734.86H29.4M302.3 734.86H300.5M26.2 729.78H29.4M302.3 729.78H300.5M24.8 724.7H31.6M302.3 724.7H299.7M26.2 719.62H29.4M302.3 719.62H300.5M26.2 714.54H29.4M302.3 714.54H300.5M26.2 709.46H29.4M302.3 709.46H300.5M26.2 704.38H29.4M302.3 704.38H300.5" stroke="#1a1a1a" stroke-width="1" fill="none"/>
<path d="M27.4 816.9V703.7H302.3" stroke="#1a1a1a" stroke-width="1.1" fill="none"/>
<path d="M302.3 703.7V816.9H27.4" stroke="#5a5a5a" stroke-width="1.6" fill="none"/>
<line x1="40.6" y1="709.05" x2="289.6" y2="811.26" stroke="#1f4f97" stroke-width="1.15"/>
<circle cx="40.6" cy="708.8" r="2.65" fill="none" stroke="#1f4f97" stroke-width="0.95"/>
<circle cx="82.1" cy="725.5" r="2.65" fill="none" stroke="#1f4f97" stroke-width="0.95"/>
<circle cx="123.6" cy="744.3" r="2.65" fill="none" stroke="#1f4f97" stroke-width="0.95"/>
<circle cx="165.1" cy="760" r="2.65" fill="none" stroke="#1f4f97" stroke-width="0.95"/>
<circle cx="206.6" cy="777.3" r="2.65" fill="none" stroke="#1f4f97" stroke-width="0.95"/>
<circle cx="248.1" cy="794.2" r="2.65" fill="none" stroke="#1f4f97" stroke-width="0.95"/>
<circle cx="289.6" cy="811" r="2.65" fill="none" stroke="#1f4f97" stroke-width="0.95"/>
<text x="40.6" y="827.72" font-size="7" font-weight="bold" text-anchor="middle" fill="#222">2</text>
<text x="82.1" y="827.72" font-size="7" font-weight="bold" text-anchor="middle" fill="#222">3</text>
<text x="123.6" y="827.72" font-size="7" font-weight="bold" text-anchor="middle" fill="#222">4</text>
<text x="165.1" y="827.72" font-size="7" font-weight="bold" text-anchor="middle" fill="#222">5</text>
<text x="206.6" y="827.72" font-size="7" font-weight="bold" text-anchor="middle" fill="#222">6</text>
<text x="248.1" y="827.72" font-size="7" font-weight="bold" text-anchor="middle" fill="#222">7</text>
<text x="289.6" y="827.72" font-size="7" font-weight="bold" text-anchor="middle" fill="#222">8</text>
<text x="21.2" y="802.52" font-size="7" font-weight="bold" text-anchor="end" fill="#222">15</text>
<text x="21.2" y="777.12" font-size="7" font-weight="bold" text-anchor="end" fill="#222">20</text>
<text x="21.2" y="751.72" font-size="7" font-weight="bold" text-anchor="end" fill="#222">25</text>
<text x="21.2" y="726.32" font-size="7" font-weight="bold" text-anchor="end" fill="#222">30</text>
<text x="127.7" y="697.5" font-size="7" font-weight="bold" textLength="50.5" lengthAdjust="spacingAndGlyphs" fill="#111">Standard Curve</text>
<text transform="translate(7 760) rotate(-90)" font-size="6.6" font-weight="bold" text-anchor="middle" fill="#111">Cq</text>
<text x="130" y="840" font-size="6.6" font-weight="bold" textLength="69.4" lengthAdjust="spacingAndGlyphs" fill="#111">Log Starting Quantity</text>
<rect x="75.5" y="843.6" width="177.9" height="27.3" fill="#fff" stroke="#3a3a3a" stroke-width="1"/>
<circle cx="86" cy="849" r="2.1" fill="none" stroke="#111" stroke-width="0.9"/>
<path d="M82.55 855.45L89.45 862.35M89.45 855.45L82.55 862.35" stroke="#111" stroke-width="0.9"/>
<line x1="78.8" y1="866.5" x2="92.6" y2="866.5" stroke="#1f4f97" stroke-width="1"/>
<text x="96.7" y="851.1" font-size="6.7" textLength="25.1" lengthAdjust="spacingAndGlyphs" fill="#151515">Standard</text>
<text x="96.3" y="859.4" font-size="6.7" textLength="26.6" lengthAdjust="spacingAndGlyphs" fill="#151515">Unknown</text>
<text x="97" y="867.7" font-size="6.7" textLength="13.1" lengthAdjust="spacingAndGlyphs" fill="#151515">FAM</text>
<text x="116.7" y="867.7" font-size="6.7" textLength="131.3" lengthAdjust="spacingAndGlyphs" fill="#151515">E=99.8% R^2=1.000 Slope=-3.327 y-int=39.682</text>
<text x="153.4" y="893.85" class="cap" font-size="16.6" text-anchor="middle" fill="#111">(<tspan font-weight="bold">g</tspan>)</text>
<path d="M403.5 708V819.5M447.5 708V819.5M490.5 708V819.5M533.5 708V819.5M576.5 708V819.5M620.5 708V819.5M663.5 708V819.5M389 811.5H680.7M389 786.5H680.7M389 760.5H680.7M389 734.5H680.7M389 708.5H680.7" stroke="#a0a0a0" stroke-width="1" stroke-dasharray="1 3" fill="none"/>
<path d="M395.15 821.2V818.4M395.15 703.6V705.4M403.8 822.4V817.4M403.8 703.6V706.2M412.45 821.2V818.4M412.45 703.6V705.4M421.1 821.2V818.4M421.1 703.6V705.4M429.75 821.2V818.4M429.75 703.6V705.4M438.4 821.2V818.4M438.4 703.6V705.4M447.05 822.4V817.4M447.05 703.6V706.2M455.7 821.2V818.4M455.7 703.6V705.4M464.35 821.2V818.4M464.35 703.6V705.4M473 821.2V818.4M473 703.6V705.4M481.65 821.2V818.4M481.65 703.6V705.4M490.3 822.4V817.4M490.3 703.6V706.2M498.95 821.2V818.4M498.95 703.6V705.4M507.6 821.2V818.4M507.6 703.6V705.4M516.25 821.2V818.4M516.25 703.6V705.4M524.9 821.2V818.4M524.9 703.6V705.4M533.55 822.4V817.4M533.55 703.6V706.2M542.2 821.2V818.4M542.2 703.6V705.4M550.85 821.2V818.4M550.85 703.6V705.4M559.5 821.2V818.4M559.5 703.6V705.4M568.15 821.2V818.4M568.15 703.6V705.4M576.8 822.4V817.4M576.8 703.6V706.2M585.45 821.2V818.4M585.45 703.6V705.4M594.1 821.2V818.4M594.1 703.6V705.4M602.75 821.2V818.4M602.75 703.6V705.4M611.4 821.2V818.4M611.4 703.6V705.4M620.05 822.4V817.4M620.05 703.6V706.2M628.7 821.2V818.4M628.7 703.6V705.4M637.35 821.2V818.4M637.35 703.6V705.4M646 821.2V818.4M646 703.6V705.4M654.65 821.2V818.4M654.65 703.6V705.4M663.3 822.4V817.4M663.3 703.6V706.2M671.95 821.2V818.4M671.95 703.6V705.4M680.6 821.2V818.4M680.6 703.6V705.4M386.8 817.02H390M681.2 817.02H679.4M385.4 811.85H392.2M681.2 811.85H678.6M386.8 806.68H390M681.2 806.68H679.4M386.8 801.51H390M681.2 801.51H679.4M386.8 796.34H390M681.2 796.34H679.4M386.8 791.17H390M681.2 791.17H679.4M385.4 786H392.2M681.2 786H678.6M386.8 780.83H390M681.2 780.83H679.4M386.8 775.66H390M681.2 775.66H679.4M386.8 770.49H390M681.2 770.49H679.4M386.8 765.32H390M681.2 765.32H679.4M385.4 760.15H392.2M681.2 760.15H678.6M386.8 754.98H390M681.2 754.98H679.4M386.8 749.81H390M681.2 749.81H679.4M386.8 744.64H390M681.2 744.64H679.4M386.8 739.47H390M681.2 739.47H679.4M385.4 734.3H392.2M681.2 734.3H678.6M386.8 729.13H390M681.2 729.13H679.4M386.8 723.96H390M681.2 723.96H679.4M386.8 718.79H390M681.2 718.79H679.4M386.8 713.62H390M681.2 713.62H679.4M385.4 708.45H392.2M681.2 708.45H678.6" stroke="#555" stroke-width="1" fill="none"/>
<path d="M388 820V703.6H681.2" stroke="#555" stroke-width="1.1" fill="none"/>
<path d="M681.2 703.6V820H388" stroke="#444" stroke-width="1.2" fill="none"/>
<line x1="403.8" y1="710" x2="667.3" y2="814.47" stroke="#1f4f97" stroke-width="1.0"/>
<circle cx="403.8" cy="708.8" r="2.65" fill="none" stroke="#1f4f97" stroke-width="0.85"/>
<circle cx="447.05" cy="728.5" r="2.65" fill="none" stroke="#1f4f97" stroke-width="0.85"/>
<circle cx="490.3" cy="744.9" r="2.65" fill="none" stroke="#1f4f97" stroke-width="0.85"/>
<circle cx="533.55" cy="761.2" r="2.65" fill="none" stroke="#1f4f97" stroke-width="0.85"/>
<circle cx="576.8" cy="778.1" r="2.65" fill="none" stroke="#1f4f97" stroke-width="0.85"/>
<circle cx="620.05" cy="795.5" r="2.65" fill="none" stroke="#1f4f97" stroke-width="0.85"/>
<circle cx="663.3" cy="813.1" r="2.65" fill="none" stroke="#1f4f97" stroke-width="0.85"/>
<text transform="translate(403.8 831.95) scale(0.82 1)" font-size="8.2" text-anchor="middle" fill="#111" stroke="#111" stroke-width="0.25">3</text>
<text transform="translate(447.05 831.95) scale(0.82 1)" font-size="8.2" text-anchor="middle" fill="#111" stroke="#111" stroke-width="0.25">4</text>
<text transform="translate(490.3 831.95) scale(0.82 1)" font-size="8.2" text-anchor="middle" fill="#111" stroke="#111" stroke-width="0.25">5</text>
<text transform="translate(533.55 831.95) scale(0.82 1)" font-size="8.2" text-anchor="middle" fill="#111" stroke="#111" stroke-width="0.25">6</text>
<text transform="translate(576.8 831.95) scale(0.82 1)" font-size="8.2" text-anchor="middle" fill="#111" stroke="#111" stroke-width="0.25">7</text>
<text transform="translate(620.05 831.95) scale(0.82 1)" font-size="8.2" text-anchor="middle" fill="#111" stroke="#111" stroke-width="0.25">8</text>
<text transform="translate(663.3 831.95) scale(0.82 1)" font-size="8.2" text-anchor="middle" fill="#111" stroke="#111" stroke-width="0.25">9</text>
<text transform="translate(382.2 813.8) scale(0.84 1)" font-size="7.6" text-anchor="end" fill="#111" stroke="#111" stroke-width="0.2">15</text>
<text transform="translate(382.2 787.95) scale(0.84 1)" font-size="7.6" text-anchor="end" fill="#111" stroke="#111" stroke-width="0.2">20</text>
<text transform="translate(382.2 762.1) scale(0.84 1)" font-size="7.6" text-anchor="end" fill="#111" stroke="#111" stroke-width="0.2">25</text>
<text transform="translate(382.2 736.25) scale(0.84 1)" font-size="7.6" text-anchor="end" fill="#111" stroke="#111" stroke-width="0.2">30</text>
<text transform="translate(382.2 710.4) scale(0.84 1)" font-size="7.6" text-anchor="end" fill="#111" stroke="#111" stroke-width="0.2">35</text>
<text x="504.7" y="697.8" font-size="6.4" font-weight="bold" textLength="38.8" lengthAdjust="spacingAndGlyphs" fill="#111">Standard Curve</text>
<text transform="translate(369 761.5) rotate(-90)" font-size="6.6" font-weight="bold" text-anchor="middle" fill="#111">Cq</text>
<text x="502.2" y="841.9" font-size="6.4" font-weight="bold" textLength="64" lengthAdjust="spacingAndGlyphs" fill="#111">Log Starting Quantity</text>
<rect x="452.4" y="847.5" width="164.5" height="27.3" fill="#fff" stroke="#3a3a3a" stroke-width="1"/>
<circle cx="461.6" cy="852.5" r="2.2" fill="none" stroke="#111" stroke-width="0.9"/>
<path d="M458.2 858.7L465 865.5M465 858.7L458.2 865.5" stroke="#111" stroke-width="0.9"/>
<line x1="455" y1="869.5" x2="467.7" y2="869.5" stroke="#1f4f97" stroke-width="1"/>
<text x="471.4" y="854" font-size="5.8" textLength="22.6" lengthAdjust="spacingAndGlyphs" fill="#000" stroke="#000" stroke-width="0.15">Standard</text>
<text x="470.9" y="862.1" font-size="5.8" textLength="24.1" lengthAdjust="spacingAndGlyphs" fill="#000" stroke="#000" stroke-width="0.15">Unknown</text>
<text x="475.7" y="870.8" font-size="5.8" textLength="10.5" lengthAdjust="spacingAndGlyphs" fill="#000" stroke="#000" stroke-width="0.15">FAM</text>
<text x="495" y="870.8" font-size="5.8" textLength="113.8" lengthAdjust="spacingAndGlyphs" fill="#000" stroke="#000" stroke-width="0.15">E= 99.5% R^2=1.000 Slope=-3.333 y-int=44.628</text>
<text x="525.8" y="893.85" class="cap" font-size="16.6" text-anchor="middle" fill="#111">(<tspan font-weight="bold">h</tspan>)</text>
</svg>
</body></html>
